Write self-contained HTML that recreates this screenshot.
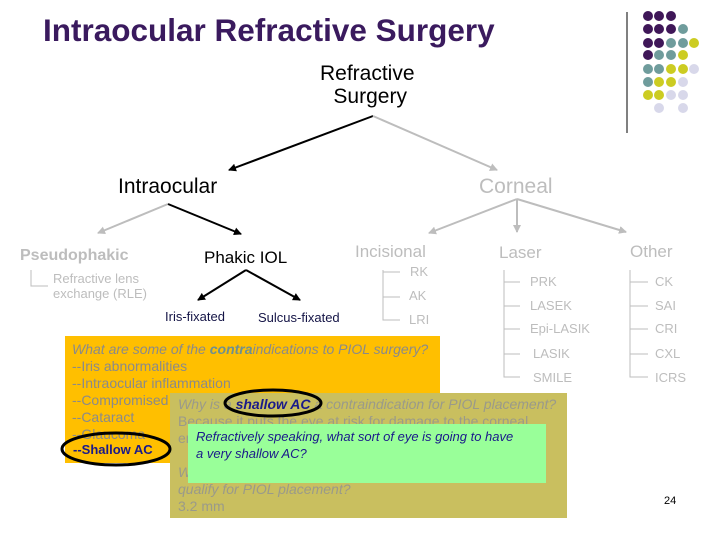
<!DOCTYPE html>
<html><head><meta charset="utf-8"><style>
body{margin:0;width:720px;height:540px;background:#fff;position:relative;overflow:hidden;font-family:"Liberation Sans",sans-serif}
.t{position:absolute;white-space:nowrap}
.g{color:#bdbdbd}
.box{position:absolute}
</style></head><body>
<div class="t" style="left:43px;top:12px;font-size:31.5px;font-weight:bold;color:#3a1a5e">Intraocular Refractive Surgery</div>
<div class="t" style="left:320px;top:62px;font-size:21px;line-height:23px;text-align:center;color:#000">Refractive<br>&nbsp;Surgery</div>
<div class="t" style="left:118px;top:175px;font-size:21px">Intraocular</div>
<div class="t g" style="left:479px;top:175px;font-size:21px">Corneal</div>
<div class="t g" style="left:20px;top:247px;font-size:16px;font-weight:bold">Pseudophakic</div>
<div class="t g" style="left:53px;top:271px;font-size:13px;line-height:15px">Refractive lens<br>exchange (RLE)</div>
<div class="t" style="left:204px;top:248px;font-size:17px">Phakic IOL</div>
<div class="t" style="left:165px;top:309px;font-size:13px;color:#141446">Iris-fixated</div>
<div class="t" style="left:258px;top:310px;font-size:13px;color:#141446">Sulcus-fixated</div>
<div class="t g" style="left:355px;top:242px;font-size:17px">Incisional</div>
<div class="t g" style="left:499px;top:243px;font-size:17px">Laser</div>
<div class="t g" style="left:630px;top:242px;font-size:17px">Other</div>
<div class="t g" style="left:410px;top:264px;font-size:13px">RK</div>
<div class="t g" style="left:409px;top:288px;font-size:13px">AK</div>
<div class="t g" style="left:409px;top:312px;font-size:13px">LRI</div>
<div class="t g" style="left:530px;top:274px;font-size:13px">PRK</div>
<div class="t g" style="left:530px;top:298px;font-size:13px">LASEK</div>
<div class="t g" style="left:530px;top:321px;font-size:13px">Epi-LASIK</div>
<div class="t g" style="left:533px;top:346px;font-size:13px">LASIK</div>
<div class="t g" style="left:533px;top:370px;font-size:13px">SMILE</div>
<div class="t g" style="left:655px;top:274px;font-size:13px">CK</div>
<div class="t g" style="left:655px;top:298px;font-size:13px">SAI</div>
<div class="t g" style="left:655px;top:321px;font-size:13px">CRI</div>
<div class="t g" style="left:655px;top:346px;font-size:13px">CXL</div>
<div class="t g" style="left:655px;top:370px;font-size:13px">ICRS</div>
<svg width="720" height="540" style="position:absolute;left:0;top:0">
<defs>
<marker id="ab" markerWidth="8" markerHeight="8" refX="7" refY="4" orient="auto" markerUnits="userSpaceOnUse"><path d="M0,0L8,4L0,8z" fill="#000"/></marker>
<marker id="ag" markerWidth="8" markerHeight="8" refX="7" refY="4" orient="auto" markerUnits="userSpaceOnUse"><path d="M0,0L8,4L0,8z" fill="#bdbdbd"/></marker>
</defs>
<g stroke-width="2" fill="none">
<line x1="373" y1="116" x2="229" y2="170" stroke="#000" marker-end="url(#ab)"/>
<line x1="373" y1="116" x2="497" y2="170" stroke="#bdbdbd" marker-end="url(#ag)"/>
<line x1="168" y1="204" x2="98" y2="233" stroke="#bdbdbd" marker-end="url(#ag)"/>
<line x1="168" y1="204" x2="241" y2="234" stroke="#000" marker-end="url(#ab)"/>
<line x1="517" y1="199" x2="429" y2="233" stroke="#bdbdbd" marker-end="url(#ag)"/>
<line x1="517" y1="199" x2="517" y2="232" stroke="#bdbdbd" marker-end="url(#ag)"/>
<line x1="517" y1="199" x2="626" y2="232" stroke="#bdbdbd" marker-end="url(#ag)"/>
<line x1="246" y1="270" x2="198" y2="300" stroke="#000" marker-end="url(#ab)"/>
<line x1="246" y1="270" x2="300" y2="300" stroke="#000" marker-end="url(#ab)"/>
</g>
<g stroke="#bdbdbd" stroke-width="1" fill="none">
<path d="M31,270V286H48"/>
<path d="M383,270V320H400M383,272H400M383,297H400"/>
<path d="M504,270V377H520M504,282H520M504,306H520M504,329H520M504,354H520"/>
<path d="M630,270V377H648M630,282H648M630,306H648M630,329H648M630,354H648"/>
</g>
<line x1="627" y1="12" x2="627" y2="133" stroke="#000" stroke-width="1"/>
<g>
<circle cx="648" cy="16" r="5" fill="#3f1758"/><circle cx="659" cy="16" r="5" fill="#3f1758"/><circle cx="671" cy="16" r="5" fill="#3f1758"/>
<circle cx="648" cy="29" r="5" fill="#3f1758"/><circle cx="659" cy="29" r="5" fill="#3f1758"/><circle cx="671" cy="29" r="5" fill="#3f1758"/><circle cx="683" cy="29" r="5" fill="#6f9c9c"/>
<circle cx="648" cy="43" r="5" fill="#3f1758"/><circle cx="659" cy="43" r="5" fill="#3f1758"/><circle cx="671" cy="43" r="5" fill="#6f9c9c"/><circle cx="683" cy="43" r="5" fill="#6f9c9c"/><circle cx="694" cy="43" r="5" fill="#cccc22"/>
<circle cx="648" cy="55" r="5" fill="#3f1758"/><circle cx="659" cy="55" r="5" fill="#6f9c9c"/><circle cx="671" cy="55" r="5" fill="#6f9c9c"/><circle cx="683" cy="55" r="5" fill="#cccc22"/>
<circle cx="648" cy="69" r="5" fill="#6f9c9c"/><circle cx="659" cy="69" r="5" fill="#6f9c9c"/><circle cx="671" cy="69" r="5" fill="#cccc22"/><circle cx="683" cy="69" r="5" fill="#cccc22"/><circle cx="694" cy="69" r="5" fill="#d8d8ea"/>
<circle cx="648" cy="82" r="5" fill="#6f9c9c"/><circle cx="659" cy="82" r="5" fill="#cccc22"/><circle cx="671" cy="82" r="5" fill="#cccc22"/><circle cx="683" cy="82" r="5" fill="#d8d8ea"/>
<circle cx="648" cy="95" r="5" fill="#cccc22"/><circle cx="659" cy="95" r="5" fill="#cccc22"/><circle cx="671" cy="95" r="5" fill="#d8d8ea"/><circle cx="683" cy="95" r="5" fill="#d8d8ea"/>
<circle cx="659" cy="108" r="5" fill="#d8d8ea"/><circle cx="683" cy="108" r="5" fill="#d8d8ea"/>
</g>
</svg>
<div class="box" style="left:65px;top:336px;width:375px;height:127px;background:#ffbf00"></div>
<div class="t" style="left:72px;top:341px;font-size:14px;line-height:17px;color:#8a8a8a"><i>What are some of the <b style="color:#6f8f8f">contra</b>indications to PIOL surgery?</i><br>--Iris abnormalities<br>--Intraocular inflammation<br>--Compromised<br>--Cataract<br>--Glaucoma</div>
<div class="t" style="left:73px;top:442px;font-size:13px;font-weight:bold;color:#1a1a8a">--Shallow AC</div>
<div class="box" style="left:170px;top:393px;width:397px;height:125px;background:#c9bf5f"></div>
<div class="t" style="left:178px;top:396px;font-size:14px;line-height:17px;color:#9a9a8a"><i>Why is a <b style="color:#1a1a8a">shallow AC</b> a contraindication for PIOL placement?</i><br>Because it puts the eye at risk for damage to the corneal<br>endothelium<br><br><i>What is the minimum AC depth (from endo) required to<br>qualify for PIOL placement?</i><br>3.2 mm</div>
<div class="box" style="left:188px;top:424px;width:358px;height:59px;background:#99ff99"></div>
<div class="t" style="left:196px;top:428px;font-size:13px;line-height:17px;color:#1a1a8a"><i>Refractively speaking, what sort of eye is going to have<br>a very shallow AC?</i></div>
<svg width="720" height="540" style="position:absolute;left:0;top:0">
<ellipse cx="116" cy="449" rx="54" ry="16" fill="none" stroke="#000" stroke-width="3"/>
<ellipse cx="273" cy="403" rx="48" ry="13" fill="none" stroke="#000" stroke-width="3"/>
</svg>
<div class="t" style="left:664px;top:495px;font-size:11px">24</div>
</body></html>
